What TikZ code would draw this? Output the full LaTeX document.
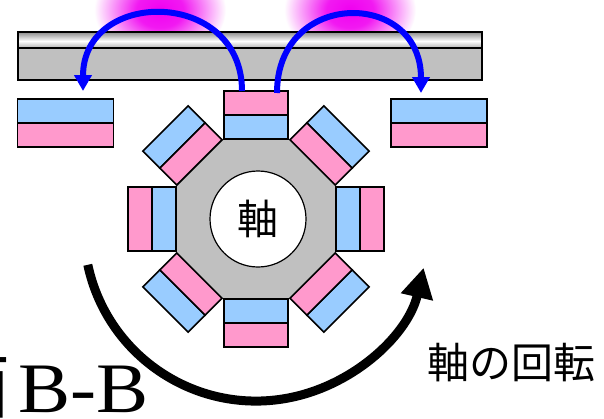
\documentclass[tikz,border=0pt]{standalone}
\usepackage{fontspec}
\setmainfont{Liberation Serif}
\newfontfamily\widserif[FakeStretch=1.1]{Liberation Serif}
\newfontfamily\cjk{Noto Sans CJK JP}
\usetikzlibrary{arrows.meta}

\definecolor{magpink}{RGB}{255,153,204}
\definecolor{magblue}{RGB}{153,204,255}
\definecolor{rotor}{RGB}{192,192,192}
\definecolor{glowc}{RGB}{240,0,240}
\definecolor{fluxblue}{RGB}{0,0,255}

% magenta hot spot: solid core fading out to white
\pgfdeclareradialshading{glowshade}{\pgfpoint{0bp}{0bp}}{%
  color(0bp)=(glowc); color(9bp)=(glowc!90!white);
  color(17bp)=(glowc!45!white); color(25bp)=(white); color(50bp)=(white)}

\begin{document}
\begin{tikzpicture}[x=1pt,y=-1pt,
  outline/.style={draw=black,line width=1.6pt},
  pole/.style={outline,minimum width=96pt,minimum height=24pt,inner sep=0pt,outer sep=0pt},
  fluxarrow/.style={fluxblue,line width=6pt,-{Triangle[length=16pt,width=17pt]}},
  turnarrow/.style={black,line width=9pt,-{Triangle[length=30pt,width=31pt]}},
  jptext/.style={font=\cjk\fontsize{42}{42}\selectfont,inner sep=0pt},
]
\useasboundingbox (0,0) rectangle (604,418);

% hot spots above the plate
\shade[shading=glowshade] (160,10) ellipse [x radius=66pt, y radius=50pt];
\shade[shading=glowshade] (350,10) ellipse [x radius=66pt, y radius=50pt];

% plate: shaded top strip and grey body
\shade[top color=gray!90, bottom color=white] (18,32) rectangle (482,41);
\shade[top color=white, bottom color=gray!60] (18,41) rectangle (482,48);
\fill[rotor] (18,48) rectangle (482,80);
\draw[outline] (18,32) rectangle (482,80);
\draw[outline] (18,48) -- (482,48);

% magnets under the plate
\node[pole,fill=magblue] (lmN) at (65.5,111) {};
\node[pole,fill=magpink] (lmS) at (65.5,135) {};
\node[pole,fill=magblue] (rmN) at (439,111) {};
\node[pole,fill=magpink] (rmS) at (439,135) {};

% rotation arrow around the rotor
\coordinate (rc) at (256,229);
\coordinate (turnstart) at (87.8,264.8);
\draw[turnarrow] (turnstart) arc[start angle=168, end angle=13, radius=172];

% rotor: octagon with eight two-layer magnets
\coordinate (c) at (256,219);
\begin{scope}[shift={(c)}]
  \fill[rotor, draw=rotor!85!black, line width=0.6pt]
    (22.5:86.6) -- (67.5:86.6) -- (112.5:86.6) -- (157.5:86.6) --
    (202.5:86.6) -- (247.5:86.6) -- (292.5:86.6) -- (337.5:86.6) -- cycle;
\end{scope}
\foreach \k in {0,...,7} {
  \ifodd\k
    \def\outerc{magblue}\def\innerc{magpink}
  \else
    \def\outerc{magpink}\def\innerc{magblue}
  \fi
  \begin{scope}[shift={(c)}, rotate=45*\k]
    \filldraw[outline, fill=\outerc] (-32,-128) rectangle (32,-104);
    \filldraw[outline, fill=\innerc] (-32,-104) rectangle (32,-80);
  \end{scope}
}

% shaft
\node[circle, draw=black, line width=1.2pt, fill=white, minimum size=96pt,
      inner sep=0pt, font=\cjk\fontsize{41}{41}\selectfont] (shaft) at (258,219) {軸};

% flux paths from the top rotor magnet into the side magnets
\coordinate (f1s) at (242,91);
\coordinate (f1e) at (83,91);
\coordinate (f2s) at (277,93);
\coordinate (f2e) at (421,93);
\draw[fluxarrow] (f1s) .. controls (242,-12) and (83,-12) .. (f1e);
\draw[fluxarrow] (f2s) .. controls (277,-11) and (421,-11) .. (f2e);

% labels
\node[jptext] (rot) at (511.5,362.5) {軸の回転};
\node[font=\widserif\fontsize{71}{71}\selectfont, anchor=base east, inner sep=0pt]
  (sec) at (149,412) {{\cjk 面}\kern8pt B-B};
\end{tikzpicture}
\end{document}
